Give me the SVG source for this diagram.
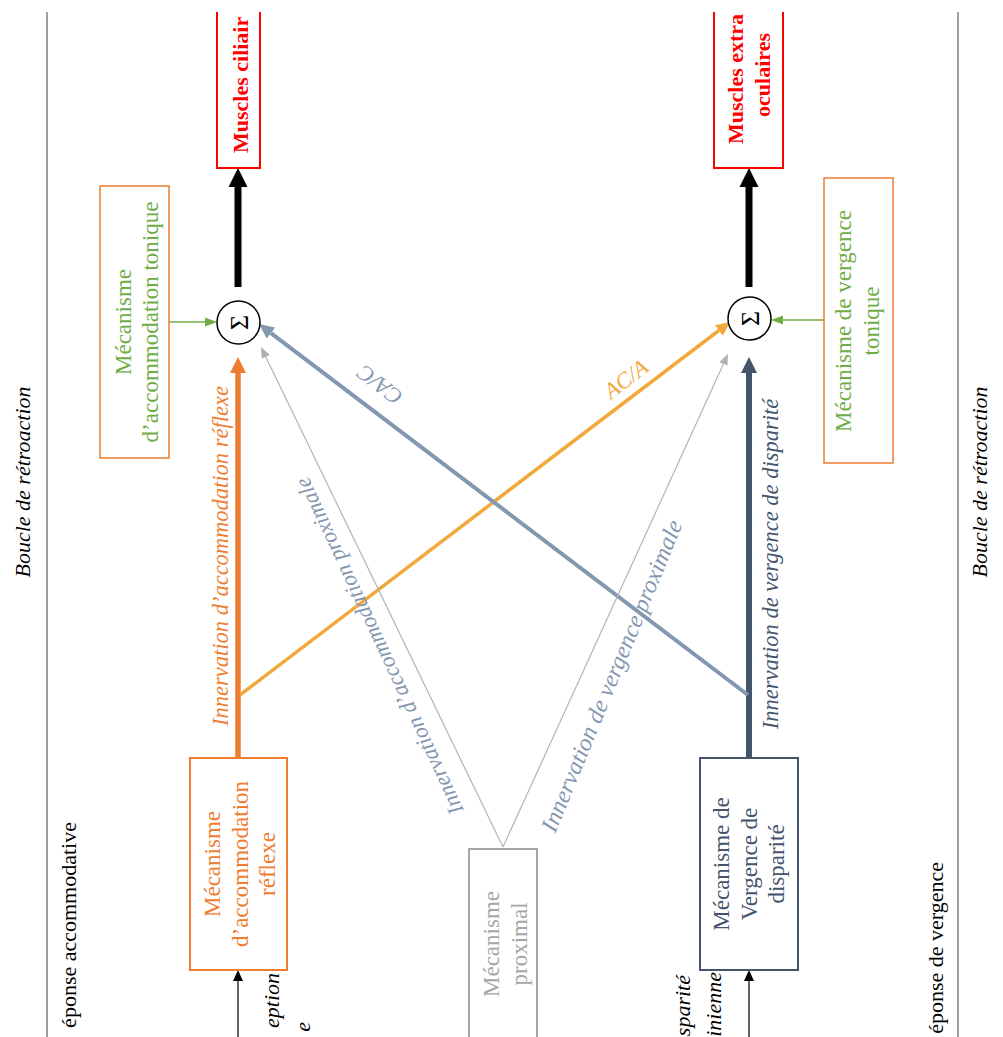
<svg xmlns="http://www.w3.org/2000/svg" width="1003" height="1037" viewBox="0 0 1003 1037" font-family="'Liberation Serif', Tinos, 'Times New Roman', 'DejaVu Serif', serif">
<style>
text{font-family:'Liberation Serif', Tinos, 'Times New Roman', 'DejaVu Serif', serif;}
.box{font-size:23px;text-anchor:middle}
.it{font-style:italic;font-size:22.5px;text-anchor:middle}
.big{font-size:24px}
.lab{font-style:italic;font-size:22px}
.red{font-size:22px;font-weight:bold;fill:#FF0000}
.rb{fill:none;stroke:#FF0000;stroke-width:2}
.sum{fill:#fff;stroke:#000;stroke-width:1.5}
.frame{stroke:#7F7F7F;stroke-width:1.5;fill:none}
.c{fill:none}
</style>
<defs>
<marker id="hBlack" markerUnits="userSpaceOnUse" viewBox="0 -10 19 20" markerWidth="19" markerHeight="20" refX="0" refY="0" orient="auto"><path d="M0,-9.5L19,0L0,9.5z" fill="#000"/></marker>
<marker id="hOrange" markerUnits="userSpaceOnUse" viewBox="0 -8 16 16" markerWidth="16" markerHeight="16" refX="0" refY="0" orient="auto"><path d="M0,-8L16,0L0,8z" fill="#ED7D31"/></marker>
<marker id="hDark" markerUnits="userSpaceOnUse" viewBox="0 -8 16 16" markerWidth="16" markerHeight="16" refX="0" refY="0" orient="auto"><path d="M0,-8L16,0L0,8z" fill="#44546A"/></marker>
<marker id="hLight" markerUnits="userSpaceOnUse" viewBox="0 -7 14 14" markerWidth="14" markerHeight="14" refX="0" refY="0" orient="auto"><path d="M0,-6.5L14,0L0,6.5z" fill="#F2A93B"/></marker>
<marker id="hBlue" markerUnits="userSpaceOnUse" viewBox="0 -7 15 14" markerWidth="15" markerHeight="14" refX="0" refY="0" orient="auto"><path d="M0,-7L15,0L0,7z" fill="#8497B0"/></marker>
<marker id="hGray" markerUnits="userSpaceOnUse" viewBox="0 -5 11 10" markerWidth="11" markerHeight="10" refX="0" refY="0" orient="auto"><path d="M0,-4.5L11,0L0,4.5z" fill="#B0B0B0"/></marker>
<marker id="hGreen" markerUnits="userSpaceOnUse" viewBox="0 -5 12 10" markerWidth="12" markerHeight="10" refX="0" refY="0" orient="auto"><path d="M0,-4.5L12,0L0,4.5z" fill="#70AD47"/></marker>
<marker id="hIn" markerUnits="userSpaceOnUse" viewBox="0 -5 11 10" markerWidth="11" markerHeight="10" refX="0" refY="0" orient="auto"><path d="M0,-5L11,0L0,5z" fill="#000"/></marker>
</defs>
<rect width="1003" height="1037" fill="#fff"/>

<g id="frame">
<path class="frame" d="M47,12V1037"/>
<path class="frame" d="M958,12V1037"/>
<text class="lab" transform="translate(30,482) rotate(-90)" text-anchor="middle">Boucle de rétroaction</text>
<text class="lab" transform="translate(987,482) rotate(-90)" text-anchor="middle">Boucle de rétroaction</text>
<text transform="translate(76,822) rotate(-90)" font-size="22" text-anchor="end">éponse accommodative</text>
<text transform="translate(943,862) rotate(-90)" font-size="22" text-anchor="end">éponse de vergence</text>
<text class="lab" transform="translate(279,973) rotate(-90)" text-anchor="end">eption</text>
<text class="lab" transform="translate(310,1022) rotate(-90)" text-anchor="end">e</text>
<text class="lab" transform="translate(690,975) rotate(-90)" text-anchor="end">sparité</text>
<text class="lab" transform="translate(721,972) rotate(-90)" text-anchor="end">inienne</text>
</g>

<g id="connectors">
<path class="c" d="M238,287V187" stroke="#000" stroke-width="7" marker-end="url(#hBlack)"/>
<path class="c" d="M749,287V187" stroke="#000" stroke-width="7" marker-end="url(#hBlack)"/>
<path class="c" d="M238,758V373" stroke="#ED7D31" stroke-width="5.5" marker-end="url(#hOrange)"/>
<path class="c" d="M749,758V373" stroke="#44546A" stroke-width="6" marker-end="url(#hDark)"/>
<path class="c" d="M240,695L718.9,330.5" stroke="#F2A93B" stroke-width="3.5" marker-end="url(#hLight)"/>
<path class="c" d="M748,695L271,333.1" stroke="#8497B0" stroke-width="4" marker-end="url(#hBlue)"/>
<path class="c" d="M503,847L265.8,356.9" stroke="#B4B4B4" stroke-width="1.2" marker-end="url(#hGray)"/>
<path class="c" d="M503,847L723.4,364" stroke="#B4B4B4" stroke-width="1.2" marker-end="url(#hGray)"/>
<path class="c" d="M169,322H205" stroke="#70AD47" stroke-width="1.3" marker-end="url(#hGreen)"/>
<path class="c" d="M824,320H783" stroke="#70AD47" stroke-width="1.3" marker-end="url(#hGreen)"/>
<path class="c" d="M238,1037V981" stroke="#333" stroke-width="1.5" marker-end="url(#hIn)"/>
<path class="c" d="M749,1037V981" stroke="#333" stroke-width="1.5" marker-end="url(#hIn)"/>
<text class="it" fill="#ED7D31" transform="translate(228,556) rotate(-90)">Innervation d’accommodation réflexe</text>
<text class="it" fill="#44546A" transform="translate(778,564) rotate(-90)">Innervation de vergence de disparité</text>
<text class="it" fill="#8497B0" transform="translate(386,643) rotate(-115)">Innervation d’accommodation proximale</text>
<text class="it big" fill="#8497B0" transform="translate(619,679) rotate(-67.6)">Innervation de vergence proximale</text>
<text class="it" fill="#8497B0" transform="translate(384.5,379) rotate(-142.6)">CA/C</text>
<text class="it" fill="#F2A93B" transform="translate(630.5,385) rotate(-37.3)">AC/A</text>
</g>

<g id="sum-acc">
<circle class="sum" cx="238.5" cy="322.5" r="21.5"/>
<text transform="translate(238.5,322.5) rotate(-90)" font-size="26" text-anchor="middle" y="9">Σ</text>
</g>
<g id="sum-verg">
<circle class="sum" cx="749.5" cy="318.5" r="21.5"/>
<text transform="translate(749.5,318.5) rotate(-90)" font-size="26" text-anchor="middle" y="9">Σ</text>
</g>

<g id="muscles-ciliaires">
<path class="rb" d="M217,12V168H260V12"/>
<text class="red" transform="translate(248,153) rotate(-90)">Muscles ciliair</text>
</g>
<g id="muscles-extraoculaires">
<path class="rb" d="M714,12V168H783V12"/>
<text class="red" transform="translate(743,144) rotate(-90)">Muscles extra</text>
<text class="red" transform="translate(770,75) rotate(-90)" text-anchor="middle">oculaires</text>
</g>

<g id="tonic-acc">
<rect x="100" y="186" width="69" height="272" fill="#fff" stroke="#ED7D31" stroke-width="1.5"/>
<text class="box" fill="#70AD47" transform="translate(131,322) rotate(-90)"><tspan x="0" y="0">Mécanisme</tspan><tspan x="0" y="27">d’accommodation tonique</tspan></text>
</g>
<g id="tonic-verg">
<rect x="824" y="178" width="69" height="285" fill="#fff" stroke="#ED7D31" stroke-width="1.5"/>
<text class="box" fill="#70AD47" transform="translate(851,321) rotate(-90)"><tspan x="0" y="0">Mécanisme de vergence</tspan><tspan x="0" y="27.5">tonique</tspan></text>
</g>

<g id="reflex-acc">
<rect x="190" y="758" width="97" height="212" fill="#fff" stroke="#ED7D31" stroke-width="2"/>
<text class="box" fill="#ED7D31" transform="translate(220,864) rotate(-90)"><tspan x="0" y="0">Mécanisme</tspan><tspan x="0" y="27.5">d’accommodation</tspan><tspan x="0" y="55">réflexe</tspan></text>
</g>
<g id="disparity-verg">
<rect x="700" y="758" width="98" height="212" fill="#fff" stroke="#44546A" stroke-width="2"/>
<text class="box" fill="#44546A" transform="translate(729,864) rotate(-90)"><tspan x="0" y="0">Mécanisme de</tspan><tspan x="0" y="27.5">Vergence de</tspan><tspan x="0" y="55">disparité</tspan></text>
</g>
<g id="proximal">
<path d="M469,1037V849H537V1037" fill="#fff" stroke="#A6A6A6" stroke-width="2"/>
<text class="box" fill="#A6A6A6" transform="translate(499,944) rotate(-90)"><tspan x="0" y="0">Mécanisme</tspan><tspan x="0" y="27.5">proximal</tspan></text>
</g>
</svg>
